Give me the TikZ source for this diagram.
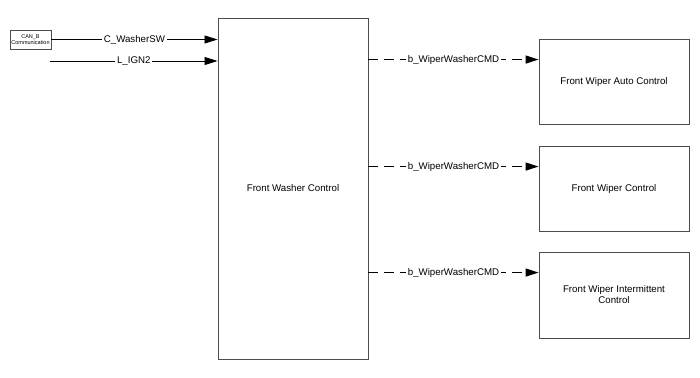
\documentclass[tikz,border=0pt]{standalone}
\usepackage{fontspec}
\setmainfont{Liberation Sans}
\usetikzlibrary{arrows.meta}

\begin{document}
\begin{tikzpicture}[x=1pt, y=-1pt, line cap=butt, line join=miter,
    blockbox/.style={draw=black!70, line width=0.9pt, fill=white, inner sep=0pt,
      align=center, font=\fontsize{9.7}{11}\selectfont},
    sigline/.style={line width=0.8pt, -{Triangle[length=13pt,width=8pt]}},
    cmdline/.style={sigline, line width=1.3pt, dash pattern=on 10pt off 6pt},
    siglabel/.style={midway, fill=white, inner sep=2pt, font=\fontsize{9.7}{11}\selectfont}]
  \useasboundingbox (0,0) rectangle (700,377);
  % blocks
  \node[blockbox, minimum width=41pt, minimum height=19pt, line width=0.7pt,
        font=\fontsize{5.5}{6}\selectfont] (can) at (30.5,39.5) {CAN\_B\\Communication};
  \node[blockbox, minimum width=150pt, minimum height=341pt] (washer) at (293,188.5) {Front Washer Control};
  \node[blockbox, minimum width=150pt, minimum height=85pt] (auto) at (614,81.5) {Front Wiper Auto Control};
  \node[blockbox, minimum width=150pt, minimum height=85pt] (wiper) at (614,188.5) {Front Wiper Control};
  \node[blockbox, minimum width=150pt, minimum height=86pt] (inter) at (614,295) {Front Wiper Intermittent\\Control};
  % inputs
  \coordinate (ign) at (50,61);
  \draw[sigline] (can.east) -- (washer.west |- can.east) node[siglabel] {C\_WasherSW};
  \draw[sigline] (ign) -- (washer.west |- ign) node[siglabel] {L\_IGN2};
  % outputs
  \foreach \blk in {auto, wiper, inter} {
    \coordinate (\blk in) at ([yshift=-21pt]\blk.north west);
    \draw[cmdline] (washer.east |- \blk in) -- (\blk in) node[siglabel] {b\_WiperWasherCMD};
  }
\end{tikzpicture}
\end{document}
